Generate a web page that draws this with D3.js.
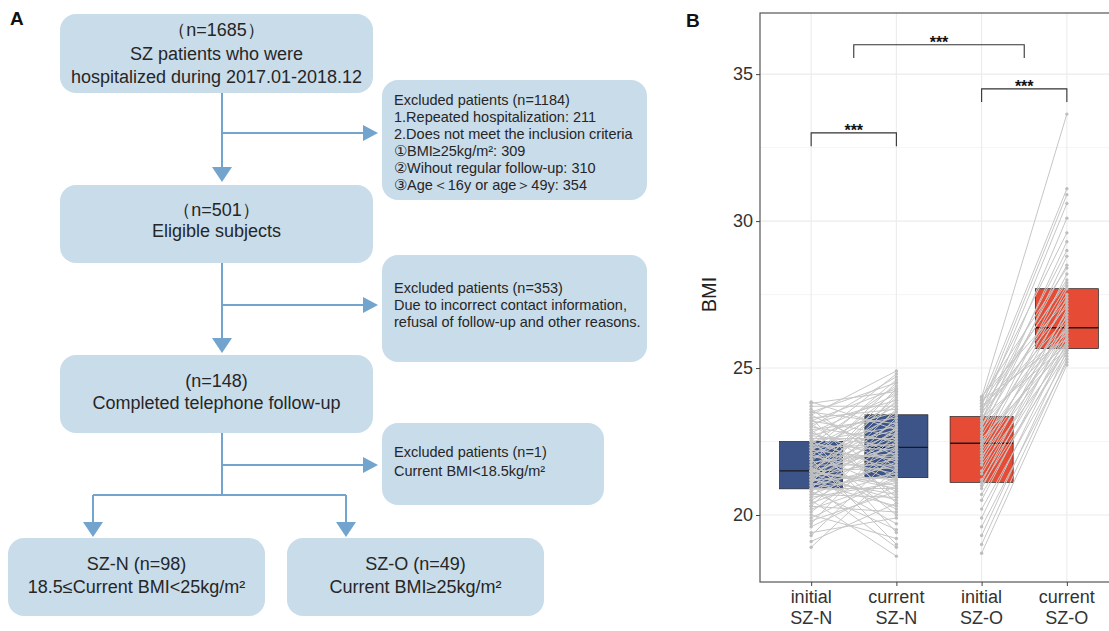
<!DOCTYPE html>
<html lang="en">
<head>
<meta charset="UTF-8">
<title>SZ flowchart and BMI change</title>
<script src="https://cdn.jsdelivr.net/npm/d3@7"></script>
<style>
  body { margin: 0; background: #fff; }
  svg { display: block; font-family: "Liberation Sans", Arial, sans-serif; }
</style>
</head>
<body>
<script>
// ---------- Panel B data ----------
const categories = ["initial|SZ-N", "current|SZ-N", "initial|SZ-O", "current|SZ-O"];
const boxColors = ["#3C5488", "#3C5488", "#E64B35", "#E64B35"];

// box statistics (Q1, median, Q3)
const boxQ1  = [20.89, 21.27, 21.11, 25.66];
const boxMed = [21.50, 22.30, 22.44, 26.37];
const boxQ3  = [22.50, 23.41, 23.35, 27.70];

// paired BMI values, SZ-N (n=98)
const szNInitial = [
  18.9, 19.1, 19.3, 19.4, 19.6, 19.7, 19.8, 19.9, 20.0, 20.1,
  20.2, 20.3, 20.3, 20.4, 20.5, 20.5, 20.6, 20.6, 20.7, 20.7,
  20.8, 20.8, 20.9, 20.9, 20.9, 21.0, 21.0, 21.0, 21.1, 21.1,
  21.1, 21.2, 21.2, 21.2, 21.2, 21.3, 21.3, 21.3, 21.3, 21.4,
  21.4, 21.4, 21.4, 21.5, 21.5, 21.5, 21.5, 21.5, 21.5, 21.6,
  21.6, 21.7, 21.7, 21.8, 21.8, 21.9, 21.9, 22.0, 22.0, 22.0,
  22.1, 22.1, 22.2, 22.2, 22.2, 22.3, 22.3, 22.3, 22.4, 22.4,
  22.4, 22.5, 22.5, 22.5, 22.6, 22.6, 22.7, 22.7, 22.8, 22.8,
  22.9, 22.9, 23.0, 23.0, 23.1, 23.1, 23.2, 23.2, 23.3, 23.3,
  23.4, 23.4, 23.5, 23.5, 23.6, 23.7, 23.8, 23.85
];
const szNCurrent = [
  21.6, 20.4, 22.1, 19.9, 21.0, 22.8, 20.8, 21.3, 19.2, 22.3,
  21.2, 20.1, 23.0, 21.5, 18.6, 22.0, 21.1, 23.3, 20.6, 21.8,
  19.5, 22.5, 21.4, 23.6, 20.9, 22.2, 18.9, 21.7, 23.9, 20.3,
  22.6, 21.3, 24.1, 20.7, 22.9, 21.9, 19.7, 23.2, 22.4, 21.2,
  24.3, 20.5, 22.7, 21.6, 23.5, 20.9, 22.3, 24.0, 21.0, 22.8,
  20.2, 23.1, 21.7, 24.5, 22.1, 19.0, 23.4, 22.0, 24.2, 21.4,
  22.9, 20.8, 23.7, 21.9, 24.6, 22.4, 20.0, 23.8, 22.2, 21.1,
  24.4, 23.0, 21.5, 24.8, 22.6, 19.4, 23.5, 22.3, 24.1, 21.8,
  23.3, 20.6, 24.7, 22.5, 21.2, 23.9, 22.7, 24.3, 20.4, 23.6,
  24.9, 22.0, 23.1, 24.5, 21.6, 23.7, 24.2, 22.9
];

// paired BMI values, SZ-O (n=49)
const szOInitial = [
  18.7, 19.0, 19.3, 19.6, 19.9, 20.2, 20.5, 20.7, 20.9, 21.0,
  21.1, 21.2, 21.4, 21.5, 21.7, 21.8, 21.9, 22.0, 22.1, 22.2,
  22.3, 22.4, 22.4, 22.5, 22.6, 22.7, 22.8, 22.9, 23.0, 23.0,
  23.1, 23.2, 23.2, 23.3, 23.3, 23.4, 23.5, 23.5, 23.6, 23.6,
  23.7, 23.7, 23.8, 23.8, 23.9, 23.9, 24.0, 24.0, 24.03
];
const szOCurrent = [
  25.1, 25.3, 25.6, 25.2, 25.9, 25.4, 26.1, 25.7, 26.4, 25.5,
  26.8, 25.8, 26.2, 27.0, 25.6, 26.5, 27.4, 25.9, 26.3, 26.9,
  27.7, 26.0, 28.2, 26.4, 25.7, 27.2, 28.8, 26.6, 27.8, 29.3,
  26.2, 28.5, 30.1, 27.5, 25.8, 29.0, 26.7, 30.6, 28.0, 27.1,
  30.9, 26.3, 29.6, 27.9, 31.1, 26.0, 28.4, 33.64, 27.3
];

const yTicks = [20, 25, 30, 35];
const yMinor = [22.5, 27.5, 32.5];
const sigLabels = ["***", "***", "***"];
const sigLevels = [33.0, 34.5, 36.0];

// ---------- Panel A texts ----------
const mainBoxTexts = [
  ["（n=1685）", "SZ patients who were", "hospitalized during 2017.01-2018.12"],
  ["（n=501）", "Eligible subjects"],
  ["(n=148)", "Completed telephone follow-up"]
];
const sideBoxTexts = [
  ["Excluded patients (n=1184)", "1.Repeated hospitalization: 211", "2.Does not meet the inclusion criteria",
   "①BMI≥25kg/m²: 309", "②Wihout regular follow-up: 310", "③Age＜16y or age＞49y: 354"],
  ["Excluded patients (n=353)", "Due to incorrect contact information,", "refusal of follow-up and other reasons."],
  ["Excluded patients (n=1)", "Current BMI<18.5kg/m²"]
];
const groupBoxTexts = [
  ["SZ-N (n=98)", "18.5≤Current BMI<25kg/m²"],
  ["SZ-O (n=49)", "Current BMI≥25kg/m²"]
];

const W = 1109, H = 631;
const svg = d3.select("body").append("svg").attr("width", W).attr("height", H);

// ================= Panel A =================
const boxFill = "#c9dcea", arrowCol = "#72a4cd", txtCol = "#262626";
const gA = svg.append("g");

gA.append("text").attr("x", 10).attr("y", 25).attr("font-size", 19)
  .attr("font-weight", "bold").attr("fill", "#111").text("A");

// layout of the flow boxes
const mainLayout = [
  { x: 60, y: 14, w: 313, h: 79, base: [36, 60, 83] },
  { x: 60, y: 185, w: 313, h: 78, base: [216, 237] },
  { x: 60, y: 355, w: 313, h: 78, base: [387, 409] }
];
const sideLayout = [
  { x: 382, y: 80, w: 265, h: 120, base0: 105, step: 17 },
  { x: 382, y: 255, w: 265, h: 107, base0: 293, step: 17 },
  { x: 382, y: 423, w: 222, h: 82, base0: 457, step: 19 }
];
const groupLayout = [
  { x: 8, y: 538, w: 257, h: 78, base: [570, 593] },
  { x: 287, y: 538, w: 257, h: 78, base: [570, 593] }
];

function roundBox(l) {
  gA.append("rect").attr("x", l.x).attr("y", l.y).attr("width", l.w).attr("height", l.h)
    .attr("rx", 16).attr("fill", boxFill);
}

mainLayout.forEach((l, i) => {
  roundBox(l);
  mainBoxTexts[i].forEach((t, j) => {
    gA.append("text").attr("x", l.x + l.w / 2).attr("y", l.base[j])
      .attr("text-anchor", "middle").attr("font-size", 18).attr("fill", txtCol).text(t);
  });
});
sideLayout.forEach((l, i) => {
  roundBox(l);
  sideBoxTexts[i].forEach((t, j) => {
    gA.append("text").attr("x", l.x + 12).attr("y", l.base0 + j * l.step)
      .attr("font-size", 14.5).attr("fill", txtCol).text(t);
  });
});
groupLayout.forEach((l, i) => {
  roundBox(l);
  groupBoxTexts[i].forEach((t, j) => {
    gA.append("text").attr("x", l.x + l.w / 2).attr("y", l.base[j])
      .attr("text-anchor", "middle").attr("font-size", 18).attr("fill", txtCol).text(t);
  });
});

// connectors
const segs = [
  [222, 93, 222, 170], [222, 133, 366, 133],
  [222, 263, 222, 341], [222, 305, 366, 305],
  [222, 433, 222, 495], [222, 465, 366, 465],
  [93, 495, 346, 495], [93, 495, 93, 524], [346, 495, 346, 524]
];
segs.forEach(s => {
  gA.append("line").attr("x1", s[0]).attr("y1", s[1]).attr("x2", s[2]).attr("y2", s[3])
    .attr("stroke", arrowCol).attr("stroke-width", 2);
});
const downTips = [[222, 182], [222, 353], [93, 537], [346, 537]];
const rightTips = [[378, 133], [378, 305], [378, 465]];
downTips.forEach(p => {
  gA.append("path").attr("d", `M${p[0] - 10},${p[1] - 15}L${p[0] + 10},${p[1] - 15}L${p[0]},${p[1]}Z`)
    .attr("fill", arrowCol);
});
rightTips.forEach(p => {
  gA.append("path").attr("d", `M${p[0] - 15},${p[1] - 8}L${p[0] - 15},${p[1] + 8}L${p[0]},${p[1]}Z`)
    .attr("fill", arrowCol);
});

// ================= Panel B =================
const pL = 760, pR = 1118, pT = 13, pB = 582;
const x = d3.scalePoint().domain(categories).range([pL, pR]).padding(0.6);
const y = d3.scaleLinear().domain([17.72, 37.08]).range([pB, pT]);
const step = x.step();
const gB = svg.append("g");

gB.append("text").attr("x", 686).attr("y", 27).attr("font-size", 19)
  .attr("font-weight", "bold").attr("fill", "#111").text("B");

// grid
gB.selectAll(".minor").data(yMinor).join("line")
  .attr("x1", pL).attr("x2", pR).attr("y1", d => y(d)).attr("y2", d => y(d))
  .attr("stroke", "#f2f2f2").attr("stroke-width", 0.8);
gB.selectAll(".majy").data(yTicks).join("line")
  .attr("x1", pL).attr("x2", pR).attr("y1", d => y(d)).attr("y2", d => y(d))
  .attr("stroke", "#ebebeb").attr("stroke-width", 1.1);
gB.selectAll(".majx").data(categories).join("line")
  .attr("x1", d => x(d)).attr("x2", d => x(d)).attr("y1", pT).attr("y2", pB)
  .attr("stroke", "#ebebeb").attr("stroke-width", 1.1);

// boxes
const boxW = step * 0.74;
categories.forEach((c, i) => {
  gB.append("rect").attr("x", x(c) - boxW / 2).attr("y", y(boxQ3[i]))
    .attr("width", boxW).attr("height", y(boxQ1[i]) - y(boxQ3[i]))
    .attr("fill", boxColors[i]).attr("stroke", "#222").attr("stroke-width", 0.7);
  gB.append("line").attr("x1", x(c) - boxW / 2).attr("x2", x(c) + boxW / 2)
    .attr("y1", y(boxMed[i])).attr("y2", y(boxMed[i]))
    .attr("stroke", "#1a1a1a").attr("stroke-width", 1.4);
});

// paired lines and points
const pairs = [
  { a: categories[0], b: categories[1], v0: szNInitial, v1: szNCurrent },
  { a: categories[2], b: categories[3], v0: szOInitial, v1: szOCurrent }
];
pairs.forEach(p => {
  p.v0.forEach((v, k) => {
    gB.append("line").attr("x1", x(p.a)).attr("y1", y(v))
      .attr("x2", x(p.b)).attr("y2", y(p.v1[k]))
      .attr("stroke", "#c6c6c6").attr("stroke-width", 1);
  });
});
pairs.forEach(p => {
  [[p.a, p.v0], [p.b, p.v1]].forEach(([c, vals]) => {
    gB.selectAll(null).data(vals).join("circle")
      .attr("cx", x(c)).attr("cy", d => y(d)).attr("r", 1.7).attr("fill", "#bdbdbd");
  });
});

// significance brackets
const tip = 0.45;
const brackets = [
  [x(categories[0]), x(categories[1])],
  [x(categories[2]), x(categories[3])],
  [(x(categories[0]) + x(categories[1])) / 2, (x(categories[2]) + x(categories[3])) / 2]
];
brackets.forEach((b, i) => {
  const yy = y(sigLevels[i]), yt = y(sigLevels[i] - tip);
  gB.append("path").attr("d", `M${b[0]},${yt}V${yy}H${b[1]}V${yt}`)
    .attr("fill", "none").attr("stroke", "#333").attr("stroke-width", 1.1);
  gB.append("text").attr("x", (b[0] + b[1]) / 2).attr("y", yy + 3)
    .attr("text-anchor", "middle").attr("font-size", 16).attr("font-weight", "bold")
    .attr("fill", "#111").text(sigLabels[i]);
});

// frame
gB.append("rect").attr("x", pL).attr("y", pT).attr("width", pR - pL).attr("height", pB - pT)
  .attr("fill", "none").attr("stroke", "#555").attr("stroke-width", 1.2);

// y axis
const yAxis = gB.append("g").attr("transform", `translate(${pL},0)`)
  .call(d3.axisLeft(y).tickValues(yTicks).tickSize(4).tickPadding(3));
yAxis.select(".domain").remove();
yAxis.selectAll("line").attr("stroke", "#444");
yAxis.selectAll("text").attr("font-size", 18).attr("fill", "#333")
  .attr("font-family", "Liberation Sans, Arial, sans-serif");

// x axis
const xAxis = gB.append("g").attr("transform", `translate(0,${pB})`)
  .call(d3.axisBottom(x).tickSize(4).tickFormat(""));
xAxis.select(".domain").remove();
xAxis.selectAll("line").attr("stroke", "#444");
categories.forEach(c => {
  const parts = c.split("|");
  parts.forEach((t, j) => {
    gB.append("text").attr("x", x(c)).attr("y", pB + 21 + j * 21)
      .attr("text-anchor", "middle").attr("font-size", 18).attr("fill", "#333").text(t);
  });
});

// y label
gB.append("text").attr("transform", `translate(716,${y(27.5)}) rotate(-90)`)
  .attr("text-anchor", "middle").attr("font-size", 20).attr("fill", "#222").text("BMI");
</script>
</body>
</html>
